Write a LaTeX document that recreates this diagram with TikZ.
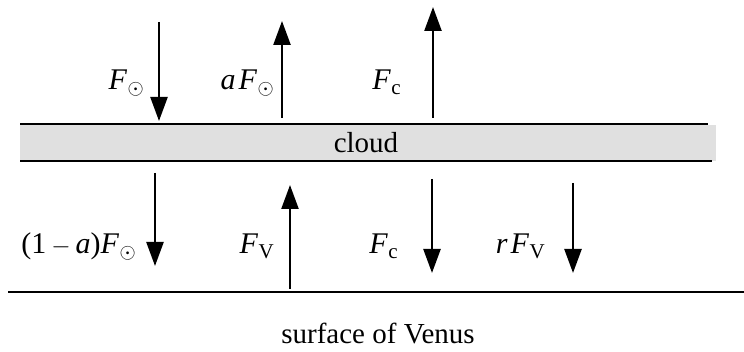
\documentclass[tikz,border=0pt]{standalone}
\usepackage{fontspec}
\setmainfont{Liberation Serif}
\usetikzlibrary{arrows.meta}
\newcommand{\Fl}[1]{\textit{F}\kern0.5pt\raisebox{-0.32ex}{\fontsize{21}{21}\selectfont #1}}
\newcommand{\sunsym}{$\odot$}
\begin{document}
\begin{tikzpicture}[x=1pt,y=-1pt,
  flux/.style={line width=2.4pt,-{Triangle[length=24pt,width=17pt]}},
  bar/.style={line width=2.4pt},
  lab/.style={anchor=base east,inner sep=0pt,font=\fontsize{30}{32}\selectfont},
  txt/.style={inner sep=0pt,font=\fontsize{29}{32}\selectfont}]
\useasboundingbox (0,0) rectangle (744,352);
% cloud band
\fill[fill={rgb,255:red,224;green,224;blue,224}] (20,125) rectangle (716,161);
\coordinate (ctl) at (20,124); \coordinate (ctr) at (708,124);
\coordinate (cbl) at (20,161); \coordinate (cbr) at (712,161);
\draw[bar] (ctl) -- (ctr);
\draw[bar] (cbl) -- (cbr);
\node[txt] (cloud) at (366,143) {cloud};
% surface
\coordinate (sl) at (8,292); \coordinate (sr) at (744,292);
\draw[bar] (sl) -- (sr);
\node[txt] (venus) at (378,334) {surface of Venus};
% top arrows
\coordinate (a1s) at (159,22); \coordinate (a1e) at (159,121);
\draw[flux] (a1s) -- (a1e);
\node[lab] (l1) at (144,90) {\Fl{\sunsym}};
\coordinate (a2s) at (282,118); \coordinate (a2e) at (282,21);
\draw[flux] (a2s) -- (a2e);
\node[lab] (l2) at (274,90) {\textit{a}\kern3pt\Fl{\sunsym}};
\coordinate (a3s) at (433,118); \coordinate (a3e) at (433,7);
\draw[flux] (a3s) -- (a3e);
\node[lab] (l3) at (401,90) {\Fl{c}};
% bottom arrows
\coordinate (b1s) at (155,173); \coordinate (b1e) at (155,266);
\draw[flux] (b1s) -- (b1e);
\node[lab] (m1) at (136,254) {(1\,$-$\,\textit{a})\Fl{\sunsym}};
\coordinate (b2s) at (290,289); \coordinate (b2e) at (290,185);
\draw[flux] (b2s) -- (b2e);
\node[lab] (m2) at (274,254) {\Fl{V}};
\coordinate (b3s) at (432,179); \coordinate (b3e) at (432,273);
\draw[flux] (b3s) -- (b3e);
\node[lab] (m3) at (398,254) {\Fl{c}};
\coordinate (b4s) at (573,183); \coordinate (b4e) at (573,273);
\draw[flux] (b4s) -- (b4e);
\node[lab] (m4) at (545,254) {\textit{r}\kern3pt\Fl{V}};
\end{tikzpicture}
\end{document}
